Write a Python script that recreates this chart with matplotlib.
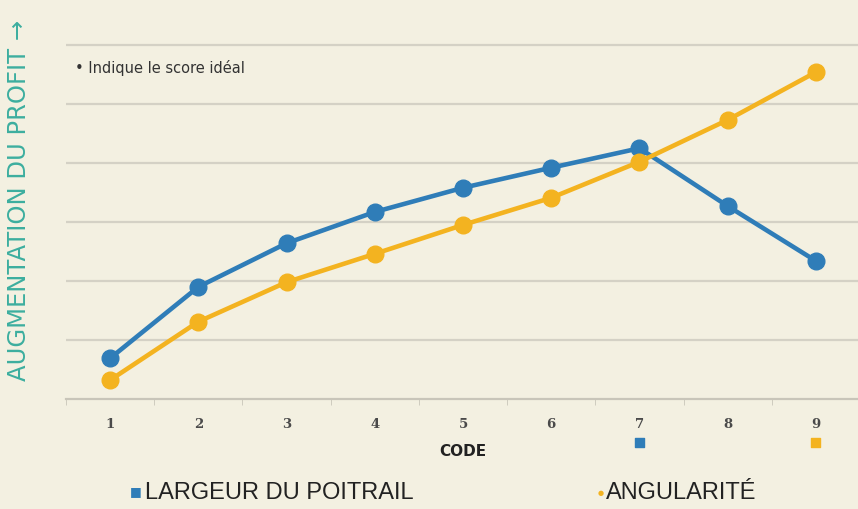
import numpy as np
import matplotlib.pyplot as plt
import matplotlib.transforms as mtransforms

# data (grid step = 1 unit)
codes = [1, 2, 3, 4, 5, 6, 7, 8, 9]
largeur = [0.69, 1.90, 2.64, 3.17, 3.58, 3.92, 4.25, 3.27, 2.34]
angularite = [0.32, 1.31, 1.98, 2.46, 2.95, 3.41, 4.02, 4.73, 5.54]
ideal_codes = [7, 9]
tick_labels = [str(c) for c in codes]

bg = '#f3f0e1'
blue = '#2f7db8'
orange = '#f3b320'
teal = '#3cae9f'

fig = plt.figure(figsize=(8.58, 5.10), dpi=100, facecolor=bg)
ax = fig.add_axes([66 / 858, 110 / 510, 794 / 858, 400 / 510])
ax.set_facecolor(bg)

ax.plot(codes, largeur, '-o', color=blue, lw=3.3, ms=12, zorder=3)
ax.plot(codes, angularite, '-o', color=orange, lw=3.3, ms=12, zorder=3)

ax.set_xlim(0.5, 9.5)
ax.set_ylim(0, 400 / 59)
for g in range(1, 7):
    ax.axhline(g, color='#d4d1c5', lw=1.6, zorder=1)

for s in ['top', 'right', 'left']:
    ax.spines[s].set_visible(False)
ax.spines['bottom'].set_color('#c8c5b9')
ax.spines['bottom'].set_linewidth(1.6)
ax.set_yticks([])
ax.set_xticks(np.arange(0.5, 10, 1), minor=True)
ax.set_xticks(codes)
ax.set_xticklabels(tick_labels, family='DejaVu Serif', fontsize=9.5,
                   fontweight='bold', color='#4a4a4a')
ax.tick_params(axis='x', which='major', length=0, pad=13)
ax.tick_params(axis='x', which='minor', length=4, color='#c8c5b9')

# ideal-score markers under codes 7 and 9
trans = mtransforms.blended_transform_factory(ax.transData, ax.transAxes)
ax.scatter(ideal_codes, [-0.108, -0.108], marker='s', s=40,
           color=[blue, orange], transform=trans, clip_on=False)

ax.text(0.5, -0.128, 'CODE', transform=ax.transAxes, ha='center', va='center',
        fontsize=11, fontweight='bold', color='#222222')

fig.text(75 / 858, 1 - 68 / 510, '• Indique le score idéal', fontsize=10.5,
         color='#333333', va='center', ha='left')

fig.text(19 / 858, 1 - 200 / 510, 'AUGMENTATION DU PROFIT →', rotation=90,
         color=teal, fontsize=17.5, family='DejaVu Sans', ha='center', va='center')

# legend
fig.text(136 / 858, 1 - 492 / 510, '■', color=blue, fontsize=9, ha='center', va='center')
fig.text(145 / 858, 1 - 493 / 510, 'LARGEUR DU POITRAIL', color='#222222',
         fontsize=17, family='Liberation Sans', ha='left', va='center')
fig.text(601 / 858, 1 - 493 / 510, '●', color=orange, fontsize=5, ha='center', va='center')
fig.text(606 / 858, 1 - 493 / 510, 'ANGULARITÉ', color='#222222',
         fontsize=17, family='Liberation Sans', ha='left', va='center')

fig.savefig('out.png', dpi=100, facecolor=bg)
